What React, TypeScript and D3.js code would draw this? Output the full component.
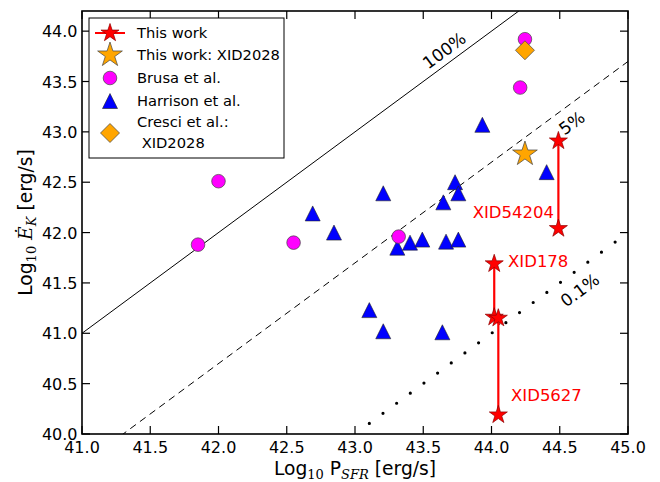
import React from "react";
import * as d3 from "d3";

const brusaX = [41.85, 42.0, 42.55, 43.32, 44.21, 44.245];
const brusaY = [41.88, 42.51, 41.9, 41.96, 43.44, 43.92];

const harrisonX = [43.207, 43.733, 43.757, 43.647, 42.69, 42.846, 43.31, 43.403, 43.493, 43.667, 43.757, 43.105, 43.207, 43.64, 43.933, 44.404];
const harrisonY = [42.39, 42.5, 42.39, 42.3, 42.19, 42.0, 41.85, 41.9, 41.93, 41.91, 41.93, 41.23, 41.02, 41.01, 43.07, 42.6];

const workNames = ["XID54204", "XID178", "XID5627"];
const workX = [44.49, 44.02, 44.05];
const workYHigh = [42.91, 41.69, 41.15];
const workYLow = [42.04, 41.16, 40.19];

const xid2028StarX = [44.245];
const xid2028StarY = [42.78];
const cresciX = [44.245];
const cresciY = [43.81];

const xTicks = [41.0, 41.5, 42.0, 42.5, 43.0, 43.5, 44.0, 44.5, 45.0];
const yTicks = [40.0, 40.5, 41.0, 41.5, 42.0, 42.5, 43.0, 43.5, 44.0];

const ratioLabels = ["100%", "5%", "0.1%"];
const ratioOffsets = [0, Math.log10(0.05), -3];

const legendLabels = ["This work", "This work: XID2028", "Brusa et al.", "Harrison et al.", "Cresci et al.:"];

const W = 660, H = 482;
const L = 82, R = 628, T = 11, B = 434;

export default function App() {
  const x = d3.scaleLinear().domain([41, 45]).range([L, R]);
  const y = d3.scaleLinear().domain([40, 44.2]).range([B, T]);
  const font = "DejaVu Sans, sans-serif";
  const math = "DejaVu Serif, serif";

  const star = (r: number) => d3.symbol().type(d3.symbolStar).size((r * r) / 0.8908130915292852)() as string;
  const redStar = star(9.5);
  const bigStar = star(13);
  const tri = (cx: number, cy: number, s = 15) =>
    `M${cx},${cy - s / 2}L${cx + s / 2},${cy + s / 2}L${cx - s / 2},${cy + s / 2}Z`;
  const diamond = (cx: number, cy: number, s = 9.5) =>
    `M${cx},${cy - s}L${cx + s},${cy}L${cx},${cy + s}L${cx - s},${cy}Z`;

  const lineFor = (off: number, x0 = 41) => {
    const xs = [x0, 45];
    return d3.line<number>().x((v) => x(v)).y((v) => y(v + off))(xs) as string;
  };

  const slopeDeg = (Math.atan((y(40) - y(41)) / (x(41) - x(40))) * 180) / Math.PI;

  const labelPos = [
    [43.68, 43.76],
    [44.615, 43.04],
    [44.674, 41.38],
  ];

  const legendY = [33, 55, 78, 101, 122];

  return (
    <svg width={W} height={H} style={{ position: "absolute", left: 0, top: 0, background: "#fff" }}>
      <defs>
        <clipPath id="plot">
          <rect x={L} y={T} width={R - L} height={B - T} />
        </clipPath>
      </defs>
      <g clipPath="url(#plot)">
        <path d={lineFor(ratioOffsets[0])} stroke="#000" strokeWidth={1} fill="none" />
        <path d={lineFor(ratioOffsets[1])} stroke="#000" strokeWidth={1} fill="none" strokeDasharray="7,5" />
        <path d={lineFor(ratioOffsets[2], 43.105)} stroke="#000" strokeWidth={3.2} fill="none" strokeDasharray="0,16.97" strokeLinecap="round" />
      </g>
      {ratioLabels.map((t, i) => (
        <text key={t} x={x(labelPos[i][0])} y={y(labelPos[i][1])} transform={`rotate(${-slopeDeg},${x(labelPos[i][0])},${y(labelPos[i][1])})`} fontFamily={font} fontSize={17} textAnchor="middle" fill="#000">
          {t}
        </text>
      ))}
      {harrisonX.map((v, i) => (
        <path key={"h" + i} d={tri(x(v), y(harrisonY[i]))} fill="#0000ff" stroke="#222" strokeWidth={0.6} />
      ))}
      {brusaX.map((v, i) => (
        <circle key={"b" + i} cx={x(v)} cy={y(brusaY[i])} r={6.8} fill="#ff00ff" stroke="#444" strokeWidth={0.7} />
      ))}
      {cresciX.map((v, i) => (
        <path key={"c" + i} d={diamond(x(v), y(cresciY[i]))} fill="#ffa500" stroke="#444" strokeWidth={0.7} />
      ))}
      {xid2028StarX.map((v, i) => (
        <path key={"s" + i} d={bigStar} transform={`translate(${x(v)},${y(xid2028StarY[i])})`} fill="#ffa500" stroke="#444" strokeWidth={0.7} />
      ))}
      {workX.map((v, i) => (
        <g key={"w" + i}>
          <line x1={x(v)} x2={x(v)} y1={y(workYHigh[i])} y2={y(workYLow[i])} stroke="#ff0000" strokeWidth={2.2} />
          <path d={redStar} transform={`translate(${x(v)},${y(workYHigh[i])})`} fill="#ff0000" stroke="#8b0000" strokeWidth={0.7} />
          <path d={redStar} transform={`translate(${x(v)},${y(workYLow[i])})`} fill="#ff0000" stroke="#8b0000" strokeWidth={0.7} />
        </g>
      ))}
      <text x={554} y={218} textAnchor="end" fontFamily={font} fontSize={16.5} fill="#ff0000">{workNames[0]}</text>
      <text x={508} y={267} fontFamily={font} fontSize={16.5} fill="#ff0000">{workNames[1]}</text>
      <text x={511} y={401} fontFamily={font} fontSize={16.5} fill="#ff0000">{workNames[2]}</text>

      {/* frame and ticks */}
      <rect x={L} y={T} width={R - L} height={B - T} fill="none" stroke="#000" strokeWidth={1.6} />
      {xTicks.map((t) => (
        <g key={"xt" + t}>
          <line x1={x(t)} x2={x(t)} y1={B} y2={B - 8} stroke="#000" strokeWidth={1.2} />
          <line x1={x(t)} x2={x(t)} y1={T} y2={T + 8} stroke="#000" strokeWidth={1.2} />
          <text x={x(t)} y={B + 19} textAnchor="middle" fontFamily={font} fontSize={16} fill="#000">{t.toFixed(1)}</text>
        </g>
      ))}
      {yTicks.map((t) => (
        <g key={"yt" + t}>
          <line x1={L} x2={L + 8} y1={y(t)} y2={y(t)} stroke="#000" strokeWidth={1.2} />
          <line x1={R} x2={R - 8} y1={y(t)} y2={y(t)} stroke="#000" strokeWidth={1.2} />
          <text x={L - 4.5} y={y(t) + 6} textAnchor="end" fontFamily={font} fontSize={16} fill="#000">{t.toFixed(1)}</text>
        </g>
      ))}
      <text x={(L + R) / 2} y={475} textAnchor="middle" fontFamily={font} fontSize={18.7} fill="#000">
        Log<tspan fontSize={13} dy={3.5} fontFamily={math}>10</tspan>
        <tspan dy={-3.5}> P</tspan>
        <tspan fontSize={13} dy={3.5} fontFamily={math} fontStyle="italic">SFR</tspan>
        <tspan dy={-3.5}> [erg/s]</tspan>
      </text>
      <text transform={`translate(32,${(T + B) / 2}) rotate(-90)`} textAnchor="middle" fontFamily={font} fontSize={18.7} fill="#000">
        Log<tspan fontSize={13} dy={4} fontFamily={math}>10</tspan>
        <tspan dy={-4} fontFamily={math} fontStyle="italic"> Ė</tspan>
        <tspan fontSize={13} dy={4} fontFamily={math} fontStyle="italic">K</tspan>
        <tspan dy={-4}> [erg/s]</tspan>
      </text>

      {/* legend */}
      <rect x={89} y={18} width={195} height={140} fill="#fff" stroke="#000" strokeWidth={1} />
      <line x1={95} x2={125} y1={legendY[0]} y2={legendY[0]} stroke="#ff0000" strokeWidth={2} />
      <path d={redStar} transform={`translate(110,${legendY[0]})`} fill="#ff0000" stroke="#8b0000" strokeWidth={0.7} />
      <path d={bigStar} transform={`translate(110,${legendY[1]})`} fill="#ffa500" stroke="#444" strokeWidth={0.7} />
      <circle cx={110} cy={legendY[2]} r={6.8} fill="#ff00ff" stroke="#444" strokeWidth={0.7} />
      <path d={tri(110, legendY[3])} fill="#0000ff" stroke="#222" strokeWidth={0.6} />
      <path d={diamond(110, 133)} fill="#ffa500" stroke="#444" strokeWidth={0.7} />
      {legendLabels.map((t, i) => (
        <text key={t} x={137} y={legendY[i] + 5} fontFamily={font} fontSize={14.7} fill="#000">{t}</text>
      ))}
      <text x={137} y={148} fontFamily={font} fontSize={14.7} fill="#000" xmlSpace="preserve">{" XID2028"}</text>
    </svg>
  );
}
